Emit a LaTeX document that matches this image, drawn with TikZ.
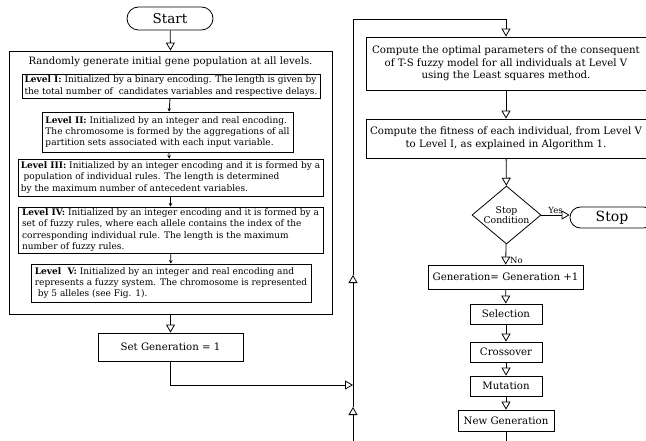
\documentclass[tikz,border=0pt]{standalone}
\usepackage{fontspec}
\setmainfont{DejaVu Serif}
\usetikzlibrary{shapes.geometric, shapes.misc}
\usetikzlibrary{arrows.meta}

\begin{document}
\begin{tikzpicture}[x=1pt,y=-1pt]
	\tikzstyle{terminal}=[draw, rounded rectangle, thick, inner sep=0pt, font=\fontsize{13.5}{15}\selectfont]
	\tikzstyle{block}=[draw, thick, inner sep=1pt, align=center, font=\fontsize{10.2}{12.7}\selectfont]
	\tikzstyle{level}=[draw, thick, inner sep=1pt, align=left, font=\fontsize{9}{11.4}\selectfont]
	\tikzstyle{cond}=[draw, thick, diamond, aspect=1.19, inner sep=-1pt, align=center, font=\fontsize{9.3}{10.3}\selectfont]
	\tikzstyle{flow}=[thick, -{Triangle[open, length=8pt, width=9pt]}]
	\tikzstyle{small}=[thick, -{Stealth[length=3.5pt, width=3.5pt]}]
	\tikzstyle{lab}=[inner sep=0pt, font=\fontsize{8.5}{10}\selectfont]

	\useasboundingbox (0,0) rectangle (646,441);

	% left column: initial population
	\node (start) [terminal, minimum width=86pt, minimum height=23pt] at (170,18.5) {Start};
	\node (outer) [draw, thick, minimum width=323pt, minimum height=263pt] at (170.5,182.5) {};
	\node (init) [font=\fontsize{10.1}{12}\selectfont] at (170.5,62) {Randomly generate initial gene population at all levels.};
	\node (lv1) [level, minimum width=298pt, minimum height=24pt] at (171,86) {\textbf{Level I:} Initialized by a binary encoding. The length is given by\\the total number of\ \ candidates variables and respective delays.};
	\node (lv2) [level, minimum width=251pt, minimum height=40pt] at (167.5,132) {\textbf{Level II:} Initialized by an integer and real encoding.\\The chromosome is formed by the aggregations of all\\partition sets associated with each input variable.};
	\node (lv3) [level, minimum width=305pt, minimum height=37pt] at (170.5,177.5) {\textbf{Level III:} Initialized by an integer encoding and it is formed by a\\\ population of individual rules. The length is determined\\by the maximum number of antecedent variables.};
	\node (lv4) [level, minimum width=305pt, minimum height=46pt] at (170.5,230) {\textbf{Level IV:} Initialized by an integer encoding and it is formed by a\\set of fuzzy rules, where each allele contains the index of the\\corresponding individual rule. The length is the maximum\\number of fuzzy rules.};
	\node (lv5) [level, minimum width=280pt, minimum height=38pt] at (171,283) {\textbf{Level\ \ V:} Initialized by an integer and real encoding and\\represents a fuzzy system. The chromosome is represented\\\ by 5 alleles (see Fig. 1).};
	\node (setgen) [block, minimum width=145pt, minimum height=28pt] at (170.5,347) {Set Generation = 1};

	% right column: generation loop
	\node (lsq) [block, minimum width=280pt, minimum height=53pt] at (506,63.5) {Compute the optimal parameters of the consequent\\of T-S fuzzy model for all individuals at Level V\\using the Least squares method.};
	\node (fit) [block, minimum width=280pt, minimum height=39pt] at (506,138.5) {Compute the fitness of each individual, from Level V\\to Level I, as explained in Algorithm 1.};
	\node (cond) [cond, minimum width=69pt, minimum height=58pt] at (506.5,215) {Stop\\Condition};
	\node (stop) [terminal, minimum width=84pt, minimum height=21pt, font=\fontsize{14}{16}\selectfont] at (612,217.5) {Stop};
	\node (gen) [block, minimum width=155pt, minimum height=24pt] at (505.5,277) {Generation= Generation +1};
	\node (sel) [block, minimum width=72pt, minimum height=20pt] at (506,314) {Selection};
	\node (cross) [block, minimum width=72pt, minimum height=20pt] at (506,352) {Crossover};
	\node (mut) [block, minimum width=72pt, minimum height=20pt] at (506,386) {Mutation};
	\node (newgen) [block, minimum width=96pt, minimum height=21pt] at (506,420.5) {New Generation};

	\coordinate (loopbot) at (353,441);
	\coordinate (loopin) at (353,407);
	\coordinate (join) at (353,385);
	\coordinate (loopmid) at (353,275);
	\coordinate (looptop) at (353,19);
	\coordinate (genbot) at (506,441);

	\draw[flow] (start) -- (outer.north);
	\draw[small] (lv1) -- (lv2);
	\draw[small] (lv2) -- (lv3);
	\draw[small] (lv3) -- (lv4);
	\draw[small] (lv4) -- (lv5);
	\draw[flow] (outer.south) -- (setgen);
	\draw[flow] (setgen) |- (join);

	\draw[flow] (loopbot) -- (loopin);
	\draw[flow] (loopin) -- (loopmid);
	\draw[flow] (loopmid) -- (looptop) -| (lsq);
	\draw[flow] (lsq) -- (fit);
	\draw[flow] (fit) -- (cond);
	\draw[flow] (cond.east) -- (stop.west |- cond.east) node[lab, midway, above=1pt] {Yes};
	\draw[flow] (cond) -- (gen) node[lab, at end, anchor=south west, xshift=4pt, yshift=0.5pt] {No};
	\draw[flow] (gen) -- (sel);
	\draw[flow] (sel) -- (cross);
	\draw[flow] (cross) -- (mut);
	\draw[flow] (mut) -- (newgen);
	\draw[thick] (newgen) -- (genbot);
\end{tikzpicture}
\end{document}
